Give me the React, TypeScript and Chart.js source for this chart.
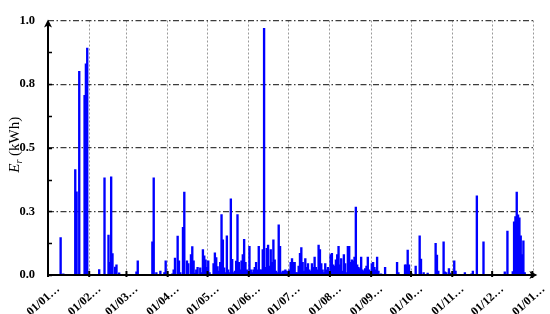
import React, { useEffect, useRef } from "react";
import { Chart, registerables } from "chart.js";

Chart.register(...registerables);

// Month boundaries (day of year) and their tick labels
const monthStarts = [0, 31, 59, 90, 120, 151, 181, 212, 243, 273, 304, 334, 365];
const xTickLabels = [
  "01/01…", "01/02…", "01/03…", "01/04…", "01/05…", "01/06…", "01/07…",
  "01/08…", "01/09…", "01/10…", "01/11…", "01/12…", "01/01…",
];
const yTickValues = [0, 0.25, 0.5, 0.75, 1.0];
const yTickLabels = ["0.0", "0.3", "0.5", "0.8", "1.0"];
const yMinorStep = 0.125;

// Daily energy E_r (kWh), one array per month
const jan = [0, 0, 0, 0, 0, 0, 0, 0, 0, 0.147, 0, 0.005, 0, 0, 0, 0, 0, 0, 0, 0, 0.414, 0.327, 0, 0.8, 0, 0, 0, 0.706, 0.83, 0.892, 0];
const feb = [0, 0, 0, 0, 0, 0, 0, 0.021, 0, 0, 0, 0.382, 0, 0, 0.157, 0.05, 0.386, 0.084, 0, 0.031, 0.04, 0, 0.009, 0, 0, 0, 0, 0];
const mar = [0, 0, 0, 0, 0, 0, 0, 0.012, 0.056, 0, 0, 0, 0, 0, 0, 0, 0, 0, 0, 0.13, 0.382, 0, 0.01, 0, 0, 0.015, 0, 0, 0.01, 0.056, 0];
const apr = [0, 0, 0, 0.005, 0.02, 0.066, 0, 0.153, 0.056, 0.01, 0, 0.187, 0.326, 0, 0.056, 0.045, 0, 0.08, 0.112, 0.056, 0.008, 0.02, 0.03, 0, 0.028, 0.01, 0.1, 0.075, 0.06, 0.03];
const may = [0.056, 0.01, 0, 0, 0.045, 0.087, 0.068, 0.033, 0.015, 0.05, 0.237, 0.138, 0.028, 0.01, 0.154, 0.02, 0.01, 0.299, 0.062, 0.01, 0.015, 0.055, 0.237, 0.05, 0.02, 0.056, 0.08, 0.14, 0.05, 0.02, 0.01];
const jun = [0.113, 0.02, 0.01, 0.02, 0.03, 0.05, 0.02, 0.113, 0.02, 0.02, 0.1, 0.969, 0.03, 0.105, 0.118, 0.035, 0.1, 0.05, 0.138, 0.06, 0.015, 0.01, 0.197, 0.113, 0.01, 0.015, 0.015, 0.02, 0.015, 0.01];
const jul = [0.02, 0.05, 0.065, 0.05, 0.05, 0.01, 0.01, 0.035, 0.085, 0.108, 0.05, 0.015, 0.065, 0.03, 0.045, 0.02, 0.015, 0.045, 0.03, 0.07, 0.03, 0.02, 0.118, 0.1, 0.045, 0.02, 0.01, 0.045, 0.02, 0.03, 0.01];
const aug = [0.08, 0.085, 0.04, 0.035, 0.06, 0.08, 0.113, 0.04, 0.065, 0.015, 0.08, 0.045, 0.01, 0.113, 0.113, 0.05, 0.06, 0.056, 0.07, 0.267, 0.04, 0.03, 0.025, 0.07, 0.02, 0.015, 0.025, 0.035, 0.07, 0.02, 0.01];
const sep = [0.045, 0.05, 0.03, 0.02, 0.07, 0.015, 0, 0.005, 0, 0, 0.03, 0, 0, 0, 0, 0, 0, 0, 0, 0.05, 0.01, 0, 0, 0, 0, 0.04, 0.04, 0.098, 0.04, 0];
const oct = [0.005, 0, 0, 0.035, 0, 0, 0.154, 0.063, 0, 0.01, 0, 0, 0.008, 0, 0, 0, 0, 0, 0.124, 0.078, 0.015, 0, 0, 0, 0.13, 0.012, 0.01, 0, 0.025, 0.008, 0];
const nov = [0, 0.056, 0.015, 0, 0, 0, 0, 0, 0, 0.01, 0, 0, 0, 0, 0.005, 0.015, 0, 0, 0.311, 0, 0, 0, 0, 0.13, 0, 0, 0, 0, 0, 0];
const dec = [0, 0, 0, 0, 0, 0, 0, 0, 0, 0.012, 0, 0.173, 0, 0, 0, 0.013, 0.209, 0.23, 0.326, 0.236, 0.225, 0.154, 0.08, 0.134, 0.01, 0, 0, 0, 0, 0, 0];

const daily = [...jan, ...feb, ...mar, ...apr, ...may, ...jun, ...jul, ...aug, ...sep, ...oct, ...nov, ...dec];

const FONT = "'Liberation Serif', 'DejaVu Serif', serif";

const decoPlugin = {
  id: "axisDeco",
  afterDraw(chart: any) {
    const { ctx, chartArea: a, scales } = chart;
    const xs = scales.x;
    const ys = scales.y;
    const x0 = xs.getPixelForValue(0);
    const y0 = ys.getPixelForValue(0);
    const yTop = ys.getPixelForValue(1);
    ctx.save();
    ctx.strokeStyle = "#000";
    ctx.fillStyle = "#000";
    ctx.lineWidth = 2;
    // axes lines
    ctx.beginPath();
    ctx.moveTo(x0, y0);
    ctx.lineTo(a.right + 2, y0);
    ctx.moveTo(x0, y0);
    ctx.lineTo(x0, yTop + 2);
    ctx.stroke();
    // arrow heads
    ctx.beginPath();
    ctx.moveTo(x0, yTop - 1);
    ctx.lineTo(x0 - 4, yTop + 7);
    ctx.lineTo(x0, yTop + 5);
    ctx.lineTo(x0 + 4, yTop + 7);
    ctx.closePath();
    ctx.fill();
    const xr = a.right + 4;
    ctx.beginPath();
    ctx.moveTo(xr, y0);
    ctx.lineTo(xr - 8, y0 - 4);
    ctx.lineTo(xr - 6, y0);
    ctx.lineTo(xr - 8, y0 + 4);
    ctx.closePath();
    ctx.fill();
    // y ticks (major + minor), pointing inside
    ctx.lineWidth = 1.6;
    ctx.beginPath();
    for (let v = 0; v < 1 - 1e-9; v += yMinorStep) {
      const py = Math.round(ys.getPixelForValue(v)) + 0.5;
      ctx.moveTo(x0, py);
      ctx.lineTo(x0 + 4, py);
    }
    ctx.stroke();
    // x ticks crossing the axis
    ctx.lineWidth = 2;
    ctx.beginPath();
    monthStarts.forEach((m, i) => {
      if (i === monthStarts.length - 1) return;
      const px = xs.getPixelForValue(m);
      ctx.moveTo(px, y0 - 4);
      ctx.lineTo(px, y0 + 2);
    });
    ctx.stroke();
    const pxe = xs.getPixelForValue(365);
    ctx.beginPath();
    ctx.moveTo(pxe - 1, y0 - 4);
    ctx.lineTo(pxe - 1, y0 + 3);
    ctx.stroke();

    // y axis title: E_r (kWh)
    const cy = (a.top + a.bottom) / 2 - 3;
    ctx.translate(14, cy);
    ctx.rotate(-Math.PI / 2);
    ctx.textBaseline = "alphabetic";
    ctx.textAlign = "left";
    const fE = `italic 15px ${FONT}`;
    const fr = `italic 10px ${FONT}`;
    const fU = `15px ${FONT}`;
    ctx.font = fE;
    const wE = ctx.measureText("E").width;
    ctx.font = fr;
    const wr = ctx.measureText("r").width;
    ctx.font = fU;
    const wU = ctx.measureText(" (kWh)").width;
    const total = wE + wr + wU;
    let sx = -total / 2;
    const base = 5;
    ctx.font = fE;
    ctx.fillText("E", sx, base);
    sx += wE;
    ctx.font = fr;
    ctx.fillText("r", sx, base + 3);
    sx += wr;
    ctx.font = fU;
    ctx.fillText(" (kWh)", sx, base);
    ctx.restore();
  },
};

export default function App() {
  const ref = useRef<HTMLCanvasElement | null>(null);
  useEffect(() => {
    if (!ref.current) return;
    const chart = new Chart(ref.current, {
      type: "bar",
      data: {
        datasets: [
          {
            label: "Er",
            data: daily.map((v, i) => ({ x: i + 0.5, y: v })),
            backgroundColor: "#0000ff",
            borderWidth: 0,
            barThickness: 1.7,
          } as any,
        ],
      },
      options: {
        animation: false,
        responsive: true,
        maintainAspectRatio: false,
        layout: { padding: { left: 0, right: 15.7, top: 9, bottom: 0 } },
        plugins: { legend: { display: false }, tooltip: { enabled: false } },
        scales: {
          x: {
            type: "linear",
            min: 0,
            max: 365,
            offset: false,
            afterBuildTicks: (s: any) => {
              s.ticks = monthStarts.map((v) => ({ value: v }));
            },
            afterFit: (s: any) => {
              s.height = 39;
            },
            grid: { color: "#9a9a9a", lineWidth: 1, drawTicks: false, offset: false },
            border: { display: false, dash: [2, 2] },
            ticks: {
              autoSkip: false,
              minRotation: 42,
              maxRotation: 42,
              labelOffset: 10,
              padding: 7,
              color: "#000",
              font: { family: FONT, size: 12, weight: "bold" },
              callback: (_v: any, i: number) => xTickLabels[i],
            },
          },
          y: {
            min: 0,
            max: 1,
            afterBuildTicks: (s: any) => {
              s.ticks = yTickValues.map((v) => ({ value: v }));
            },
            afterFit: (s: any) => {
              s.width = 48;
            },
            grid: { color: "#3c3c3c", lineWidth: 1.2, drawTicks: false },
            border: { display: false, dash: [6, 2.5, 1.5, 2.5] },
            ticks: {
              padding: 13,
              color: "#000",
              font: { family: FONT, size: 12.5, weight: "bold" },
              callback: (_v: any, i: number) => yTickLabels[i],
            },
          },
        },
      } as any,
      plugins: [decoPlugin],
    });
    return () => chart.destroy();
  }, []);
  return (
    <div style={{ position: "fixed", left: 0, top: 0, width: 550, height: 314 }}>
      <canvas ref={ref} style={{ display: "block" }} />
    </div>
  );
}
